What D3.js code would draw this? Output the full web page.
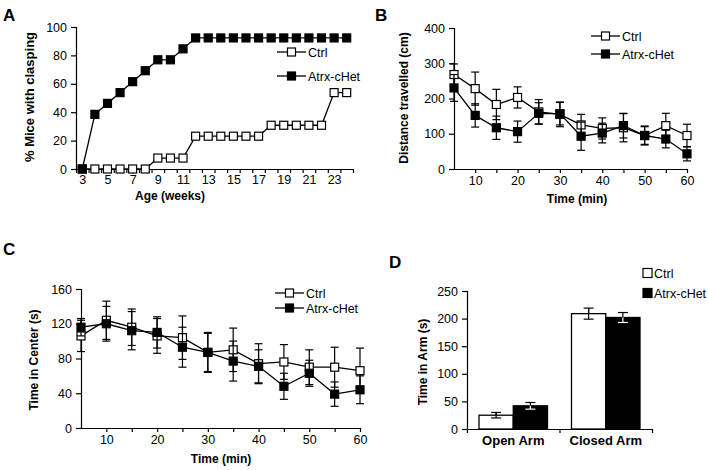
<!DOCTYPE html>
<html><head><meta charset="utf-8">
<script src="https://cdn.jsdelivr.net/npm/d3@7"></script>
<style>
body{margin:0;background:#fff;}
text{font-family:Arial,"Liberation Sans",sans-serif;fill:#000;}
</style></head><body>
<svg id="c" width="708" height="470"></svg>
<script>
// ---- Panel A data ----
const weeks = [3,4,5,6,7,8,9,10,11,12,13,14,15,16,17,18,19,20,21,22,23,24];
const clampCtrl = [0,0,0,0,0,0,7.7,7.7,7.7,23.1,23.1,23.1,23.1,23.1,23.1,30.8,30.8,30.8,30.8,30.8,53.8,53.8];
const clampHet  = [0,38.5,46.2,53.8,61.5,69.2,76.9,76.9,84.6,92.3,92.3,92.3,92.3,92.3,92.3,92.3,92.3,92.3,92.3,92.3,92.3,92.3];
const weekTicks = [3,5,7,9,11,13,15,17,19,21,23];
const clampYTicks = [0,20,40,60,80,100];

// ---- Panel B data ----
const minutes = [5,10,15,20,25,30,35,40,45,50,55,60];
const distCtrl = [268,228,183,203,162,155,125,115,117,95,123,95];
const distCtrlErr = [30,47,43,30,35,35,30,30,40,25,35,32];
const distHet = [230,152,117,106,158,157,93,102,123,95,85,43];
const distHetErr = [38,33,33,30,30,32,40,28,35,27,25,20];
const distYTicks = [0,100,200,300,400];
const minTicks = [10,20,30,40,50,60];

// ---- Panel C data ----
const centerCtrl = [106,124,116,106,104,87,90,74,76,70,70,66];
const centerCtrlErr = [18,22,21,20,25,22,25,23,20,20,23,26];
const centerHet = [116,120,112,110,93,87,77,71,48,63,39,44];
const centerHetErr = [10,20,22,18,23,23,23,19,15,15,14,16];
const centerYTicks = [0,40,80,120,160];

// ---- Panel D data ----
const armCats = ["Open Arm","Closed Arm"];
const armCtrl = [25,209];
const armCtrlErr = [5,10];
const armHet = [42,202];
const armHetErr = [6,9];
const armYTicks = [0,50,100,150,200,250];

const seriesNames = ["Ctrl","Atrx-cHet"];

const svg = d3.select("#c");
const FS = 12.5;

function styleAxis(g){
  g.selectAll("path,line").attr("stroke","#000").attr("stroke-width",1.2);
  g.selectAll("text").attr("font-size",FS).attr("fill","#000");
}

function panelLabel(t,x,y){
  svg.append("text").attr("x",x).attr("y",y).attr("font-size",17).attr("font-weight","bold").text(t);
}
function yTitle(t,x,y,fs){
  svg.append("text").attr("transform",`translate(${x},${y}) rotate(-90)`).attr("text-anchor","middle")
    .attr("font-size",fs||12).attr("font-weight","bold").text(t);
}
function xTitle(t,x,y){
  svg.append("text").attr("x",x).attr("y",y).attr("text-anchor","middle")
    .attr("font-size",12).attr("font-weight","bold").text(t);
}

function drawSeries(g, xs, ys, vals, errs, filled, xScale, yScale){
  const pts = xs.map((x,i)=>({x, y: vals[i], e: errs ? errs[i] : 0}));
  if(errs){
    const cap = 4;
    pts.forEach(p=>{
      const cx = xScale(p.x);
      g.append("line").attr("x1",cx).attr("x2",cx).attr("y1",yScale(p.y+p.e)).attr("y2",yScale(p.y-p.e)).attr("stroke","#000").attr("stroke-width",1.2);
      [p.y+p.e,p.y-p.e].forEach(v=>{
        g.append("line").attr("x1",cx-cap).attr("x2",cx+cap).attr("y1",yScale(v)).attr("y2",yScale(v)).attr("stroke","#000").attr("stroke-width",1.2);
      });
    });
  }
  g.append("path").datum(pts).attr("fill","none").attr("stroke","#000").attr("stroke-width",1.3)
    .attr("d", d3.line().x(d=>xScale(d.x)).y(d=>yScale(d.y)));
  const s = 8;
  g.selectAll(null).data(pts).enter().append("rect")
    .attr("x",d=>xScale(d.x)-s/2).attr("y",d=>yScale(d.y)-s/2).attr("width",s).attr("height",s)
    .attr("fill", filled ? "#000" : "#fff").attr("stroke","#000").attr("stroke-width",1.2);
}

function lineLegend(x0, y0, dy){
  seriesNames.forEach((n,i)=>{
    const y = y0 + i*dy;
    svg.append("line").attr("x1",x0).attr("x2",x0+29).attr("y1",y).attr("y2",y).attr("stroke","#000").attr("stroke-width",1.3);
    svg.append("rect").attr("x",x0+14.5-4).attr("y",y-4).attr("width",8).attr("height",8)
      .attr("fill", i===1 ? "#000" : "#fff").attr("stroke","#000").attr("stroke-width",1.2);
    svg.append("text").attr("x",x0+31).attr("y",y+4.5).attr("font-size",FS).text(n);
  });
}

// ================= Panel A =================
{
  const x = d3.scaleLinear().domain([2.5,24.5]).range([76,353]);
  const y = d3.scaleLinear().domain([0,100]).range([169,27]);
  const gy = svg.append("g").attr("transform","translate(76,0)")
    .call(d3.axisLeft(y).tickValues(clampYTicks).tickSize(5).tickPadding(4));
  styleAxis(gy);
  const gx = svg.append("g").attr("transform","translate(0,169)")
    .call(d3.axisBottom(x).tickValues(weekTicks).tickSize(0).tickPadding(6).tickSizeOuter(0));
  styleAxis(gx);
  const bounds = weeks.map(w=>w-0.5).concat([24.5]);
  const gt = svg.append("g").attr("transform","translate(0,169)")
    .call(d3.axisBottom(x).tickValues(bounds).tickSize(4).tickFormat("").tickSizeOuter(0));
  styleAxis(gt); gt.select(".domain").remove();
  const g = svg.append("g");
  drawSeries(g, weeks, null, clampCtrl, null, false, x, y);
  drawSeries(g, weeks, null, clampHet, null, true, x, y);
  panelLabel("A",3,21);
  yTitle("% Mice  with clasping",34,97,13);
  xTitle("Age (weeks)",170,200);
  lineLegend(277,52,24);
}

// ================= Panel B =================
{
  const x = d3.scaleLinear().domain([5,60]).range([454,687]);
  const y = d3.scaleLinear().domain([0,400]).range([169,28]);
  const gy = svg.append("g").attr("transform","translate(454,0)")
    .call(d3.axisLeft(y).tickValues(distYTicks).tickSize(5).tickPadding(4));
  styleAxis(gy);
  const gx = svg.append("g").attr("transform","translate(0,169)")
    .call(d3.axisBottom(x).tickValues(minTicks).tickSize(0).tickPadding(7).tickSizeOuter(0));
  styleAxis(gx);
  const gt = svg.append("g").attr("transform","translate(0,169)")
    .call(d3.axisBottom(x).tickValues(minutes.slice(1)).tickSize(4).tickFormat("").tickSizeOuter(0));
  styleAxis(gt); gt.select(".domain").remove();
  const g = svg.append("g");
  drawSeries(g, minutes, null, distCtrl, distCtrlErr, false, x, y);
  drawSeries(g, minutes, null, distHet, distHetErr, true, x, y);
  panelLabel("B",375,21);
  yTitle("Distance travelled (cm)",408,98);
  xTitle("Time (min)",577,203);
  lineLegend(591,36,18);
}

// ================= Panel C =================
{
  const x = d3.scaleLinear().domain([5,60]).range([81,360]);
  const y = d3.scaleLinear().domain([0,160]).range([428,289]);
  const gy = svg.append("g").attr("transform","translate(81,0)")
    .call(d3.axisLeft(y).tickValues(centerYTicks).tickSize(5).tickPadding(4));
  styleAxis(gy);
  const gx = svg.append("g").attr("transform","translate(0,428)")
    .call(d3.axisBottom(x).tickValues(minTicks).tickSize(0).tickPadding(7).tickSizeOuter(0));
  styleAxis(gx);
  const gt = svg.append("g").attr("transform","translate(0,428)")
    .call(d3.axisBottom(x).tickValues(minutes.slice(1)).tickSize(4).tickFormat("").tickSizeOuter(0));
  styleAxis(gt); gt.select(".domain").remove();
  const g = svg.append("g");
  drawSeries(g, minutes, null, centerCtrl, centerCtrlErr, false, x, y);
  drawSeries(g, minutes, null, centerHet, centerHetErr, true, x, y);
  panelLabel("C",3,255);
  yTitle("Time in Center (s)",38,360);
  xTitle("Time (min)",221,463);
  lineLegend(275,293,15);
}

// ================= Panel D =================
{
  const x0 = d3.scaleBand().domain(armCats).range([467,652]).paddingInner(0).paddingOuter(0);
  const x1 = d3.scaleBand().domain(seriesNames).range([0,x0.bandwidth()]).paddingInner(0).paddingOuter(0.35);
  const y = d3.scaleLinear().domain([0,250]).range([429,291]);
  const gy = svg.append("g").attr("transform","translate(467,0)")
    .call(d3.axisLeft(y).tickValues(armYTicks).tickSize(5).tickPadding(4));
  styleAxis(gy);
  const gx = svg.append("g").attr("transform","translate(0,429)")
    .call(d3.axisBottom(x0).tickSize(0).tickPadding(7).tickSizeOuter(0));
  styleAxis(gx);
  gx.selectAll("text").attr("font-weight","bold").attr("font-size",13);
  const bx = d3.scaleLinear().domain([0,2]).range([467,652]);
  const gt = svg.append("g").attr("transform","translate(0,429)")
    .call(d3.axisBottom(bx).tickValues([0,1,2]).tickSize(4).tickFormat("").tickSizeOuter(0));
  styleAxis(gt); gt.select(".domain").remove();
  const data = [
    {name:"Ctrl", vals:armCtrl, errs:armCtrlErr, fill:"#fff"},
    {name:"Atrx-cHet", vals:armHet, errs:armHetErr, fill:"#000"}
  ];
  data.forEach(s=>{
    armCats.forEach((c,i)=>{
      const bxl = x0(c)+x1(s.name);
      svg.append("rect").attr("x",bxl).attr("y",y(s.vals[i])).attr("width",x1.bandwidth()).attr("height",y(0)-y(s.vals[i]))
        .attr("fill",s.fill).attr("stroke","#000").attr("stroke-width",1.3);
    });
  });
  data.forEach(s=>{
    armCats.forEach((c,i)=>{
      const cx = x0(c)+x1(s.name)+x1.bandwidth()/2;
      const top = y(s.vals[i]+s.errs[i]), bot = y(s.vals[i]-s.errs[i]);
      const col = "#000";
      svg.append("line").attr("x1",cx).attr("x2",cx).attr("y1",top).attr("y2",bot).attr("stroke",s.fill==="#000"?"#fff":"#000").attr("stroke-width",1.2);
      svg.append("line").attr("x1",cx).attr("x2",cx).attr("y1",top).attr("y2",y(s.vals[i])).attr("stroke",col).attr("stroke-width",1.2);
      [top,bot].forEach(v=>{
        svg.append("line").attr("x1",cx-5).attr("x2",cx+5).attr("y1",v).attr("y2",v).attr("stroke",(v===bot && s.fill==="#000")?"#fff":col).attr("stroke-width",1.2);
      });
    });
  });
  panelLabel("D",389,268);
  yTitle("Time in Arm (s)",427,362);
  // legend
  data.forEach((s,i)=>{
    const yy = 273 + i*20;
    svg.append("rect").attr("x",643).attr("y",yy-4.5).attr("width",9).attr("height",9)
      .attr("fill",s.fill).attr("stroke","#000").attr("stroke-width",1.2);
    svg.append("text").attr("x",654).attr("y",yy+4.5).attr("font-size",FS).text(s.name);
  });
}
</script>
</body></html>
